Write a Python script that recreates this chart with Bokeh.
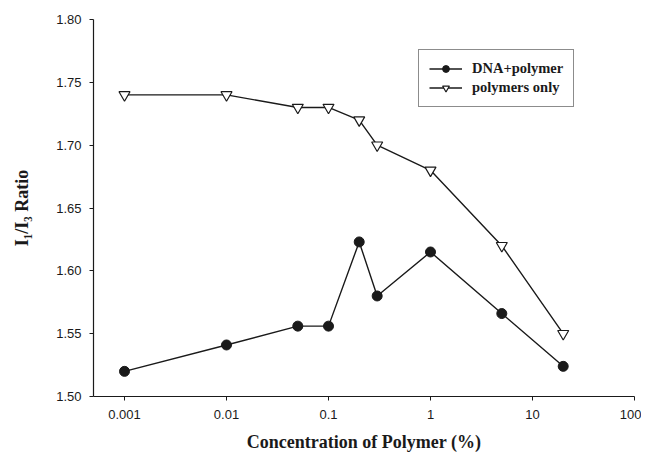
from bokeh.plotting import figure
from bokeh.models import Range1d, FixedTicker, NumeralTickFormatter, Legend
from bokeh.embed import file_html
from bokeh.resources import INLINE

conc = [0.001, 0.01, 0.05, 0.1, 0.2, 0.3, 1, 5, 20]
dna_polymer = [1.520, 1.541, 1.556, 1.556, 1.623, 1.580, 1.615, 1.566, 1.524]
polymers_only = [1.740, 1.740, 1.730, 1.730, 1.720, 1.700, 1.680, 1.620, 1.550]
x_ticks = [0.001, 0.01, 0.1, 1, 10, 100]
x_tick_labels = ["0.001", "0.01", "0.1", "1", "10", "100"]
y_ticks = [1.50, 1.55, 1.60, 1.65, 1.70, 1.75, 1.80]

INK = "#1a1a1a"

p = figure(width=641, height=454, output_backend="svg", toolbar_location=None,
           x_axis_type="log", x_range=Range1d(10 ** -3.304, 100), y_range=Range1d(1.50, 1.80),
           min_border_left=93, min_border_right=7, min_border_top=19, min_border_bottom=56)
p.outline_line_color = None
p.xgrid.visible = False
p.ygrid.visible = False

l1 = p.line(conc, dna_polymer, line_color=INK, line_width=1.4)
s1 = p.scatter(conc, dna_polymer, marker="circle", size=10, fill_color=INK, line_color=INK)
l2 = p.line(conc, polymers_only, line_color=INK, line_width=1.4)
s2 = p.scatter(conc, polymers_only, marker="inverted_triangle", size=11, fill_color="white",
               line_color=INK, line_width=1.2)

legend = Legend(items=[("DNA+polymer", [l1, s1]), ("polymers only", [l2, s2])],
                location=(325, 289))
legend.label_text_font = "Liberation Serif"
legend.label_text_font_style = "bold"
legend.label_text_font_size = "14.5px"
legend.label_text_color = INK
legend.border_line_color = INK
legend.border_line_width = 1
legend.padding = 10
legend.spacing = 2
legend.glyph_width = 33
legend.glyph_height = 17
legend.label_height = 17
legend.label_standoff = 10
legend.margin = 0
legend.background_fill_alpha = 1
p.add_layout(legend)

p.xaxis.ticker = FixedTicker(ticks=x_ticks, minor_ticks=[])
p.xaxis.major_label_overrides = {t: s for t, s in zip(x_ticks, x_tick_labels)}
p.yaxis.ticker = FixedTicker(ticks=y_ticks, minor_ticks=[])
p.yaxis.formatter = NumeralTickFormatter(format="0.00")

for ax in (p.xaxis, p.yaxis):
    ax.axis_line_color = INK
    ax.axis_line_width = 1.2
    ax.major_tick_line_color = INK
    ax.major_tick_out = 4
    ax.major_tick_in = 0
    ax.minor_tick_line_color = None
    ax.major_label_text_font = "Liberation Sans"
    ax.major_label_text_font_size = "13px"
    ax.major_label_text_color = INK
    ax.axis_label_text_font = "Liberation Serif"
    ax.axis_label_text_font_style = "bold"
    ax.axis_label_text_color = INK

p.xaxis.axis_label = "Concentration of Polymer (%)"
p.xaxis.axis_label_text_font_size = "18px"
p.xaxis.major_label_standoff = 9
p.xaxis.axis_label_standoff = 10

p.yaxis.axis_label = "I\u2081/I\u2083 Ratio"
p.yaxis.axis_label_text_font_size = "18px"
p.yaxis.major_label_standoff = 8
p.yaxis.axis_label_standoff = 21

open("out.html", "w").write(file_html(p, INLINE))
